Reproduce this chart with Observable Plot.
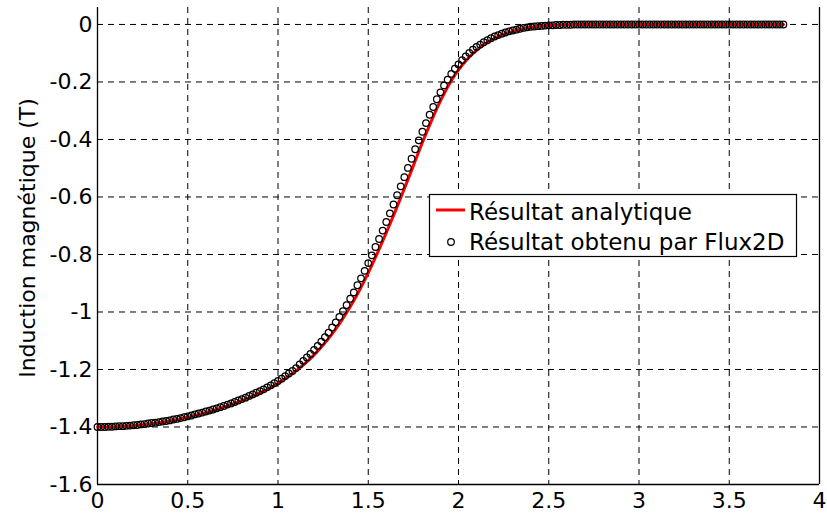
<!DOCTYPE html>
<html>
<head>
<meta charset="utf-8">
<script src="https://cdn.jsdelivr.net/npm/d3@7"></script>
<script src="https://cdn.jsdelivr.net/npm/@observablehq/plot@0.6"></script>
<style>
  html, body { margin: 0; padding: 0; background: #fff; }
</style>
</head>
<body>
<div id="chart"></div>
<script>
// ---- data ----
const xTicks = [0, 0.5, 1, 1.5, 2, 2.5, 3, 3.5, 4];
const yTicks = [0, -0.2, -0.4, -0.6, -0.8, -1, -1.2, -1.4, -1.6];
const yLabel = "Induction magnétique (T)";
const seriesNames = ["Résultat analytique", "Résultat obtenu par Flux2D"];

const analyticX = [0,0.05,0.1,0.15,0.2,0.25,0.3,0.35,0.4,0.45,0.5,0.55,0.6,0.65,0.7,0.75,0.8,0.85,0.9,0.95,
  1,1.05,1.1,1.15,1.2,1.25,1.3,1.35,1.4,1.45,1.5,1.55,1.6,1.65,1.7,1.75,1.8,1.85,1.9,1.95,
  2,2.05,2.1,2.15,2.2,2.25,2.3,2.35,2.4,2.45,2.5,2.55,2.6,2.65,2.7,2.75,2.8,2.85,2.9,2.95,
  3,3.05,3.1,3.15,3.2,3.25,3.3,3.35,3.4,3.45,3.5,3.55,3.6,3.65,3.7,3.75,3.8];
const analyticY = [-1.400,-1.400,-1.399,-1.397,-1.395,-1.392,-1.388,-1.384,-1.379,-1.373,-1.366,-1.358,-1.350,-1.341,-1.331,-1.320,-1.308,-1.295,-1.281,-1.266,
  -1.248,-1.228,-1.205,-1.179,-1.149,-1.115,-1.076,-1.032,-0.982,-0.926,-0.864,-0.796,-0.724,-0.649,-0.571,-0.491,-0.410,-0.335,-0.266,-0.206,
  -0.158,-0.120,-0.090,-0.066,-0.048,-0.034,-0.024,-0.016,-0.010,-0.006,-0.004,-0.002,-0.001,0,0,0,0,0,0,0,
  0,0,0,0,0,0,0,0,0,0,0,0,0,0,0,0,0];

const fluxX = [0,0.02,0.04,0.06,0.08,0.1,0.12,0.14,0.16,0.18,0.2,0.22,0.24,0.26,0.28,0.3,0.32,0.34,0.36,0.38,
  0.4,0.42,0.44,0.46,0.48,0.5,0.52,0.54,0.56,0.58,0.6,0.62,0.64,0.66,0.68,0.7,0.72,0.74,0.76,0.78,
  0.8,0.82,0.84,0.86,0.88,0.9,0.92,0.94,0.96,0.98,1,1.02,1.04,1.06,1.08,1.1,1.12,1.14,1.16,1.18,
  1.2,1.22,1.24,1.26,1.28,1.3,1.32,1.34,1.36,1.38,1.4,1.42,1.44,1.46,1.48,1.5,1.52,1.54,1.56,1.58,
  1.6,1.62,1.64,1.66,1.68,1.7,1.72,1.74,1.76,1.78,1.8,1.82,1.84,1.86,1.88,1.9,1.92,1.94,1.96,1.98,
  2,2.02,2.04,2.06,2.08,2.1,2.12,2.14,2.16,2.18,2.2,2.22,2.24,2.26,2.28,2.3,2.32,2.34,2.36,2.38,
  2.4,2.42,2.44,2.46,2.48,2.5,2.52,2.54,2.56,2.58,2.6,2.62,2.64,2.66,2.68,2.7,2.72,2.74,2.76,2.78,
  2.8,2.82,2.84,2.86,2.88,2.9,2.92,2.94,2.96,2.98,3,3.02,3.04,3.06,3.08,3.1,3.12,3.14,3.16,3.18,
  3.2,3.22,3.24,3.26,3.28,3.3,3.32,3.34,3.36,3.38,3.4,3.42,3.44,3.46,3.48,3.5,3.52,3.54,3.56,3.58,
  3.6,3.62,3.64,3.66,3.68,3.7,3.72,3.74,3.76,3.78,3.8];
const fluxY = [-1.400,-1.400,-1.400,-1.399,-1.399,-1.398,-1.397,-1.397,-1.396,-1.395,-1.394,-1.393,-1.391,-1.390,-1.388,-1.386,-1.385,-1.383,-1.381,-1.379,
  -1.377,-1.374,-1.372,-1.369,-1.366,-1.363,-1.360,-1.356,-1.353,-1.350,-1.346,-1.343,-1.339,-1.335,-1.331,-1.327,-1.322,-1.318,-1.313,-1.308,
  -1.303,-1.298,-1.292,-1.287,-1.281,-1.275,-1.269,-1.262,-1.255,-1.248,-1.240,-1.232,-1.223,-1.214,-1.205,-1.195,-1.182,-1.170,-1.158,-1.146,
  -1.132,-1.118,-1.103,-1.088,-1.072,-1.054,-1.036,-1.017,-0.997,-0.976,-0.954,-0.932,-0.907,-0.883,-0.857,-0.830,-0.803,-0.774,-0.746,-0.717,
  -0.687,-0.657,-0.626,-0.594,-0.563,-0.531,-0.499,-0.467,-0.434,-0.403,-0.373,-0.343,-0.314,-0.287,-0.260,-0.236,-0.212,-0.192,-0.172,-0.154,
  -0.139,-0.124,-0.111,-0.099,-0.088,-0.078,-0.070,-0.062,-0.055,-0.048,-0.042,-0.037,-0.032,-0.028,-0.024,-0.021,-0.018,-0.015,-0.012,-0.010,
  -0.008,-0.007,-0.006,-0.005,-0.004,-0.003,-0.003,-0.002,-0.002,-0.001,-0.001,-0.001,0,0,0,0,0,0,0,0,
  0,0,0,0,0,0,0,0,0,0,0,0,0,0,0,0,0,0,0,0,
  0,0,0,0,0,0,0,0,0,0,0,0,0,0,0,0,0,0,0,0,
  0,0,0,0,0,0,0,0,0,0,0];

// ---- tables built from the arrays ----
const analytic = analyticX.map((x, i) => ({x, y: analyticY[i]}));
const flux = fluxX.map((x, i) => ({x, y: fluxY[i]}));
const xDomain = [xTicks[0], xTicks[xTicks.length - 1]];
const yDomain = [yTicks[yTicks.length - 1], 0.059];

const FONT = "'DejaVu Sans', Verdana, sans-serif";
const dash = "6,5";

const svg = Plot.plot({
  width: 827,
  height: 513,
  marginLeft: 97,
  marginRight: 8,
  marginTop: 7,
  marginBottom: 29,
  style: {fontFamily: FONT, fontSize: "22px", background: "#fff", color: "#000"},
  x: {domain: xDomain},
  y: {domain: yDomain},
  marks: [
    Plot.gridX(xTicks, {stroke: "#000", strokeOpacity: 1, strokeWidth: 1, strokeDasharray: dash}),
    Plot.gridY(yTicks, {stroke: "#000", strokeOpacity: 1, strokeWidth: 1, strokeDasharray: dash}),
    Plot.axisX(xTicks, {tickSize: 0, tickPadding: 8, tickFormat: d => String(d), label: null, fontSize: 22}),
    Plot.axisY(yTicks, {tickSize: 0, tickPadding: 5, tickFormat: d => String(d), label: null, fontSize: 22}),
    Plot.ruleX([xDomain[0], xDomain[1]], {stroke: "#000", strokeWidth: 1.3}),
    Plot.ruleY([yDomain[0]], {stroke: "#000", strokeWidth: 1.3}),
    Plot.line(analytic, {x: "x", y: "y", stroke: "#ff0000", strokeWidth: 3, curve: "monotone-x"}),
    Plot.dot(flux, {x: "x", y: "y", r: 3.3, stroke: "#000", strokeWidth: 1.25, fill: "none"}),
    Plot.text([yLabel], {frameAnchor: "left", dx: -70, dy: -8, rotate: -90, fontSize: 22, fill: "#000", textAnchor: "middle"})
  ]
});

// ---- legend (drawn in pixel space inside the plot's svg) ----
const g = d3.select(svg).append("g")
  .attr("font-family", FONT).attr("font-size", 23).attr("text-anchor", "start");
g.append("rect").attr("x", 429.5).attr("y", 194.5).attr("width", 367).attr("height", 62)
  .attr("fill", "#fff").attr("stroke", "#000").attr("stroke-width", 1.2);
g.append("line").attr("x1", 436).attr("x2", 465).attr("y1", 210).attr("y2", 210)
  .attr("stroke", "#ff0000").attr("stroke-width", 3);
g.append("text").attr("x", 469).attr("y", 220).attr("fill", "#000").attr("text-anchor", "start").text(seriesNames[0]);
g.append("circle").attr("cx", 451).attr("cy", 242).attr("r", 3.3)
  .attr("fill", "none").attr("stroke", "#000").attr("stroke-width", 1.25);
g.append("text").attr("x", 469).attr("y", 250).attr("fill", "#000").attr("text-anchor", "start").text(seriesNames[1]);

document.getElementById("chart").appendChild(svg);
</script>
</body>
</html>
